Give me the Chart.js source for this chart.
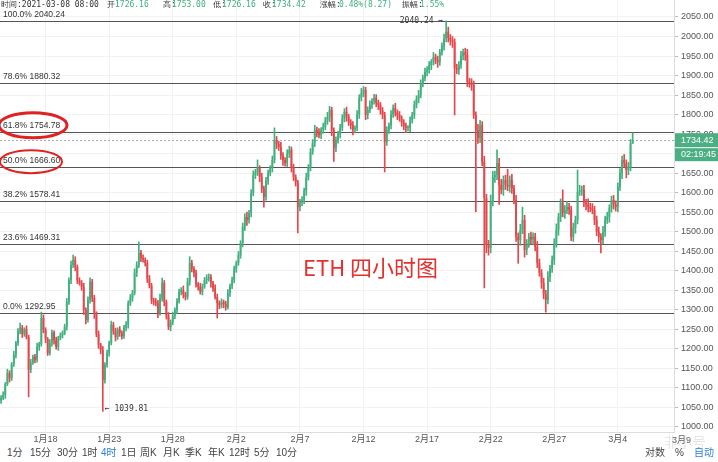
<!DOCTYPE html>
<html>
<head>
<meta charset="utf-8">
<script src="https://cdn.jsdelivr.net/npm/chart.js@4.4.1/dist/chart.umd.min.js"></script>
<style>
  html, body { margin: 0; padding: 0; background: #fff; width: 718px; height: 462px; overflow: hidden; }
  #wrap { position: absolute; left: 0; top: 0; width: 718px; height: 446px; }
  .t { position: absolute; white-space: nowrap; }
  .hd { top: 0; font: 8px "DejaVu Sans Mono", monospace; line-height: 10px; color: #333; }
  .hd.v { color: #3fae7f; }
  .tb { top: 446px; font: 10px "Liberation Sans", "Noto Sans CJK SC", sans-serif; line-height: 14px; color: #444; }
  .blue { color: #2a7ee3; }
  #title { left: 303px; top: 250px; font: 22px "Noto Sans CJK SC", sans-serif; color: #e3312d; }
  #wm { left: 664px; top: 431px; font: 14px "Noto Sans CJK SC", sans-serif; color: rgba(0,0,0,0.10); }
</style>
</head>
<body>
<div id="wrap"><canvas id="priceChart" width="718" height="446"></canvas></div>

<div class="t hd" style="left:1px">时间:2021-03-08 08:00</div>
<div class="t hd" style="left:107px">开:</div><div class="t hd v" style="left:115px">1726.16</div>
<div class="t hd" style="left:163px">高:</div><div class="t hd v" style="left:172px">1753.00</div>
<div class="t hd" style="left:213px">低:</div><div class="t hd v" style="left:222px">1726.16</div>
<div class="t hd" style="left:263px">收:</div><div class="t hd v" style="left:272px">1734.42</div>
<div class="t hd" style="left:320px">涨幅:</div><div class="t hd v" style="left:339px">0.48%(8.27)</div>
<div class="t hd" style="left:402px">振幅:</div><div class="t hd v" style="left:420px">1.55%</div>

<div class="t" id="title">ETH 四小时图</div>
<div class="t" style="left:672px;top:433px;font:9px 'Liberation Sans','Noto Sans CJK SC';color:#666">3月9</div>
<div class="t" id="wm">非小号</div>

<div class="t tb" style="left:7px">1分</div>
<div class="t tb" style="left:30px">15分</div>
<div class="t tb" style="left:57px">30分</div>
<div class="t tb" style="left:82px">1时</div>
<div class="t tb blue" style="left:101px">4时</div>
<div class="t tb" style="left:121px">1日</div>
<div class="t tb" style="left:140px">周K</div>
<div class="t tb" style="left:163px">月K</div>
<div class="t tb" style="left:185px">季K</div>
<div class="t tb" style="left:208px">年K</div>
<div class="t tb" style="left:229px">12时</div>
<div class="t tb" style="left:254px">5分</div>
<div class="t tb" style="left:276px">10分</div>
<div class="t tb" style="left:645px">对数</div>
<div class="t tb" style="left:675px">%</div>
<div class="t tb blue" style="left:694px">自动</div>

<script>
// 4h candles
const closes = [
  1075,1082,1110,1138,1125,1160,1185,1215,1245,1254,
  1238,1250,1230,1146,1165,1180,1172,1205,1212,1279,
  1248,1225,1189,1215,1241,1222,1205,1228,1235,1241,
  1256,1320,1376,1415,1428,1410,1375,1369,1359,1300,
  1274,1325,1372,1330,1290,1238,1210,1197,1120,1159,
  1190,1215,1262,1245,1230,1250,1241,1232,1254,1262,
  1317,1330,1343,1395,1415,1446,1432,1428,1420,1380,
  1362,1325,1320,1317,1292,1330,1369,1320,1285,1256,
  1268,1285,1300,1322,1345,1351,1340,1333,1372,1420,
  1405,1394,1365,1359,1346,1360,1376,1380,1384,1368,
  1355,1333,1317,1312,1320,1315,1307,1343,1360,1376,
  1405,1420,1440,1471,1512,1538,1530,1548,1599,1645,
  1652,1663,1640,1610,1589,1630,1650,1663,1684,1735,
  1725,1717,1695,1684,1676,1700,1710,1665,1640,1627,
  1563,1575,1581,1605,1640,1666,1705,1727,1761,1755,
  1748,1761,1768,1785,1794,1812,1760,1714,1735,1750,
  1766,1790,1807,1795,1780,1773,1762,1766,1800,1843,
  1855,1863,1799,1812,1825,1835,1843,1830,1825,1810,
  1799,1730,1760,1773,1800,1817,1805,1799,1791,1780,
  1770,1766,1766,1785,1799,1825,1840,1850,1880,1894,
  1909,1915,1927,1935,1947,1940,1935,1960,1975,1995,
  2012,1996,1990,1986,1919,1915,1927,1950,1960,1953,
  1884,1880,1876,1799,1760,1740,1773,1679,1586,1466,
  1458,1576,1640,1645,1676,1620,1607,1633,1620,1615,
  1633,1610,1581,1487,1479,1505,1530,1453,1470,1487,
  1480,1487,1461,1420,1395,1369,1340,1325,1384,1405,
  1428,1470,1505,1538,1574,1548,1555,1563,1556,1487,
  1510,1530,1602,1605,1607,1574,1570,1563,1560,1556,
  1530,1500,1487,1479,1500,1530,1538,1560,1581,1570,
  1563,1615,1650,1684,1675,1658,1666,1726.16,1734.42
];
const opens = [
  1068,1075,1082,1110,1138,1125,1160,1185,1215,1245,
  1254,1238,1250,1230,1146,1165,1180,1172,1205,1212,
  1279,1248,1225,1189,1215,1241,1222,1205,1228,1235,
  1241,1256,1320,1376,1415,1428,1410,1375,1369,1359,
  1300,1274,1325,1372,1330,1290,1238,1210,1197,1120,
  1159,1190,1215,1262,1245,1230,1250,1241,1232,1254,
  1262,1317,1330,1343,1395,1415,1446,1432,1428,1420,
  1380,1362,1325,1320,1317,1292,1330,1369,1320,1285,
  1256,1268,1285,1300,1322,1345,1351,1340,1333,1372,
  1420,1405,1394,1365,1359,1346,1360,1376,1380,1384,
  1368,1355,1333,1317,1312,1320,1315,1307,1343,1360,
  1376,1405,1420,1440,1471,1512,1538,1530,1548,1599,
  1645,1652,1663,1640,1610,1589,1630,1650,1663,1684,
  1735,1725,1717,1695,1684,1676,1700,1710,1665,1640,
  1627,1563,1575,1581,1605,1640,1666,1705,1727,1761,
  1755,1748,1761,1768,1785,1794,1812,1760,1714,1735,
  1750,1766,1790,1807,1795,1780,1773,1762,1766,1800,
  1843,1855,1863,1799,1812,1825,1835,1843,1830,1825,
  1810,1799,1730,1760,1773,1800,1817,1805,1799,1791,
  1780,1770,1766,1766,1785,1799,1825,1840,1850,1880,
  1894,1909,1915,1927,1935,1947,1940,1935,1960,1975,
  1995,2012,1996,1990,1986,1919,1915,1927,1950,1960,
  1953,1884,1880,1876,1799,1760,1740,1773,1679,1586,
  1466,1458,1576,1640,1645,1676,1620,1607,1633,1620,
  1615,1633,1610,1581,1487,1479,1505,1530,1453,1470,
  1487,1480,1487,1461,1420,1395,1369,1340,1325,1384,
  1405,1428,1470,1505,1538,1574,1548,1555,1563,1556,
  1487,1510,1530,1602,1605,1607,1574,1570,1563,1560,
  1556,1530,1500,1487,1479,1500,1530,1538,1560,1581,
  1570,1563,1615,1650,1684,1675,1658,1666,1726.16
];
// wick lengths above the body top / below the body bottom
const upWick = [
  5,8,4,10,6,5,9,4,7,12, 6,4,9,5,8,4,6,10,5,15, 8,6,4,9,7,5,8,4,6,5,
  7,9,6,10,12,8,5,7,6,9, 5,8,10,6,7,5,8,4,9,6, 7,5,9,6,8,4,7,5,6,8,
  6,9,7,10,8,28,6,9,5,7, 8,6,5,9,7,10,12,6,5,8, 6,9,5,7,8,6,10,5,9,16,
  7,6,8,5,9,6,7,10,8,6, 5,9,7,6,8,5,7,9,6,8, 7,5,9,6,10,8,12,7,9,11,
  8,21,6,10,7,9,8,6,10,31, 9,7,12,8,6,10,9,7,8,6, 5,8,9,7,10,6,8,9,12,7,
  9,6,10,8,12,9,7,6,8,7, 9,10,8,12,6,7,9,5,10,8, 12,9,7,8,10,6,9,8,7,6,
  8,7,9,6,10,8,12,7,9,6, 7,8,6,9,7,10,8,12,9,7, 10,8,9,6,12,8,10,7,9,11,
  28.24,12,9,10,8,10,9,12,8,10, 14,9,12,10,8,15,12,9,14,10, 12,18,15,10,34,12,14,10,12,40,
  10,14,9,12,10,14,33,12,10,9, 12,10,9,14,10,8,12,10,14,9, 10,12,15,9,10,33,12,14,10,9,
  12,10,56,14,10,12,9,14,10,12, 9,10,12,8,14,10,12,9,10,12, 9,10,12,10,14,9,12,10,18.58
];
const lowWick = [
  8,5,9,4,10,6,5,8,6,7, 9,6,5,69,7,5,8,6,9,5, 7,9,6,5,8,10,6,9,5,7,
  5,8,6,9,7,10,8,6,9,12, 10,6,8,9,12,7,9,10,80.19,8, 6,9,5,8,10,6,9,7,5,8,
  9,6,8,5,10,7,9,6,8,10, 6,9,8,7,12,6,8,10,9,7, 10,6,8,9,5,7,10,8,6,9,
  8,10,7,9,6,8,5,9,7,10, 8,6,38,9,7,10,8,5,9,6, 7,9,6,8,10,9,14,8,10,7,
  9,8,12,10,26,8,9,7,10,8, 12,9,10,14,8,9,10,12,9,10, 66,10,8,9,12,8,10,7,9,12,
  8,10,9,7,10,12,14,34,9,8, 10,7,9,12,8,10,14,9,7,10, 8,9,12,10,7,9,8,10,12,9,
  10,77,9,8,10,7,9,12,8,10, 9,12,8,10,7,9,8,10,7,9, 8,10,9,12,8,10,14,9,8,10,
  9,10,12,14,120,10,12,9,10,14, 12,10,14,9,209,14,12,10,230,20, 18,12,10,14,12,50,10,14,12,10,
  14,12,10,12,60,14,10,18,12,10, 12,14,10,12,9,14,12,31,10,12, 9,12,10,14,12,10,14,9,12,10,
  12,14,10,9,12,10,14,12,9,10, 12,10,14,33,10,12,9,14,10,12, 10,12,9,14,10,20,12,10,0
];

const slotCount = 318;           // 4h slots across the plot, empty ones on the right
const tickIndex = [21, 51, 81, 111, 141, 171, 201, 231, 261, 291];
const tickLabels = ["1月18", "1月23", "1月28", "2月2", "2月7", "2月12", "2月17", "2月22", "2月27", "3月4"];
const priceTicks = [1000,1050,1100,1150,1200,1250,1300,1350,1400,1450,1500,1550,1600,1650,1700,1750,1800,1850,1900,1950,2000,2050];
const fibRatios = ["0.0%", "23.6%", "38.2%", "50.0%", "61.8%", "78.6%", "100.0%"];
const fibLevels = [1292.95, 1469.31, 1578.41, 1666.60, 1754.78, 1880.32, 2040.24];
const lastPrice = 1734.42;
const countdown = "02:19:45";

const upColor = "#40b07e";
const downColor = "#e3464b";
const highs = closes.map((c, i) => Math.max(opens[i], c) + upWick[i]);
const lows = closes.map((c, i) => Math.min(opens[i], c) - lowWick[i]);
const colors = closes.map((c, i) => c >= opens[i] ? upColor : downColor);
const slots = Array.from({ length: slotCount }, (_, i) => i);

const overlay = {
  id: "overlay",
  beforeDatasetsDraw(chart) {
    const { ctx, chartArea: a, scales: { y } } = chart;
    ctx.save();
    ctx.font = '8.5px "Liberation Sans", Arial';
    ctx.textBaseline = "middle";
    fibLevels.forEach((v, k) => {
      const py = Math.round(y.getPixelForValue(v)) + 0.5;
      ctx.strokeStyle = "#555";
      ctx.lineWidth = 1;
      ctx.beginPath(); ctx.moveTo(a.left, py); ctx.lineTo(a.right, py); ctx.stroke();
      ctx.fillStyle = "#333";
      ctx.fillText(fibRatios[k] + " " + v.toFixed(2), 3, py - 6.5);
    });
    // current price dashed line
    const lp = Math.round(y.getPixelForValue(lastPrice)) + 0.5;
    ctx.strokeStyle = "#aaa";
    ctx.setLineDash([2, 2]);
    ctx.beginPath(); ctx.moveTo(a.left, lp); ctx.lineTo(a.right, lp); ctx.stroke();
    ctx.restore();
  },
  afterDraw(chart) {
    const { ctx, chartArea: a, scales: { x, y } } = chart;
    ctx.save();
    // red circles round two fib labels
    ctx.strokeStyle = "#e02222";
    const y618 = y.getPixelForValue(fibLevels[4]);
    const y50 = y.getPixelForValue(fibLevels[3]);
    ctx.lineWidth = 3;
    ctx.beginPath(); ctx.ellipse(33, y618 - 7, 34, 12.5, 0, 0, Math.PI * 2); ctx.stroke();
    ctx.lineWidth = 2;
    ctx.beginPath(); ctx.ellipse(31, y50 - 5, 31, 11.5, 0, 0, Math.PI * 2); ctx.stroke();

    // max / min labels
    ctx.font = '8px "DejaVu Sans Mono", monospace';
    ctx.textBaseline = "middle";
    ctx.fillStyle = "#333";
    let hi = 0, lo = 0;
    highs.forEach((h, i) => { if (h > highs[hi]) hi = i; });
    lows.forEach((l, i) => { if (l < lows[lo]) lo = i; });
    const hx = x.getPixelForValue(hi), hy = y.getPixelForValue(highs[hi]);
    ctx.textAlign = "right";
    ctx.fillText(highs[hi].toFixed(2) + " →", hx - 3, hy);
    const lx = x.getPixelForValue(lo), ly = y.getPixelForValue(lows[lo]);
    ctx.textAlign = "left";
    ctx.fillText("← " + lows[lo].toFixed(2), lx + 2, ly - 2);

    // price tag + countdown on the right axis
    const lp = y.getPixelForValue(lastPrice);
    ctx.fillStyle = "#4caf84";
    ctx.fillRect(a.right + 1, lp - 7, 44, 14);
    ctx.fillRect(a.right + 1, lp + 8, 44, 13);
    ctx.fillStyle = "#fff";
    ctx.font = '9px "Liberation Sans", Arial';
    ctx.fillText(lastPrice.toFixed(2), a.right + 7, lp);
    ctx.fillText(countdown, a.right + 7, lp + 14.5);
    ctx.restore();
  }
};

const ctx = document.getElementById("priceChart").getContext("2d");
Chart.defaults.font.family = '"Liberation Sans", Arial, sans-serif';
const priceChart = new Chart(ctx, {
  type: "bar",
  data: {
    labels: slots,
    datasets: [
      {
        label: "body",
        data: closes.map((c, i) => [opens[i], c]),
        backgroundColor: colors,
        borderWidth: 0,
        barPercentage: 0.85,
        categoryPercentage: 1,
        minBarLength: 1,
        grouped: false,
        order: 1
      },
      {
        label: "wick",
        data: closes.map((c, i) => [lows[i], highs[i]]),
        backgroundColor: colors,
        borderWidth: 0,
        barThickness: 1,
        grouped: false,
        order: 2
      }
    ]
  },
  options: {
    responsive: false,
    animation: false,
    layout: { padding: 0 },
    plugins: { legend: { display: false }, tooltip: { enabled: false } },
    scales: {
      x: {
        offset: true,
        afterBuildTicks: (axis) => { axis.ticks = tickIndex.map(v => ({ value: v })); },
        afterFit: (axis) => {
          axis.height = 14;
          axis.paddingLeft = 0;
          axis.paddingRight = 0;
        },
        grid: { color: "#f2f2f2", offset: false, drawTicks: false },
        border: { color: "#ddd" },
        ticks: {
          autoSkip: false,
          maxRotation: 0,
          padding: 2,
          color: "#555",
          font: { size: 9, family: '"Liberation Sans", "Noto Sans CJK SC"' },
          callback: (v, i) => tickLabels[i]
        }
      },
      y: {
        position: "right",
        min: 987,
        max: 2093.5,
        afterBuildTicks: (axis) => { axis.ticks = priceTicks.map(v => ({ value: v })); },
        afterFit: (axis) => {
          axis.width = 44;
          axis.paddingTop = 0;
          axis.paddingBottom = 0;
        },
        grid: { color: "#f2f2f2", tickColor: "#bbb", tickLength: 4 },
        border: { color: "#ddd" },
        ticks: {
          padding: 3,
          color: "#555",
          font: { size: 9 },
          callback: (v) => Number(v).toFixed(2)
        }
      }
    }
  },
  plugins: [overlay]
});
</script>
</body>
</html>
